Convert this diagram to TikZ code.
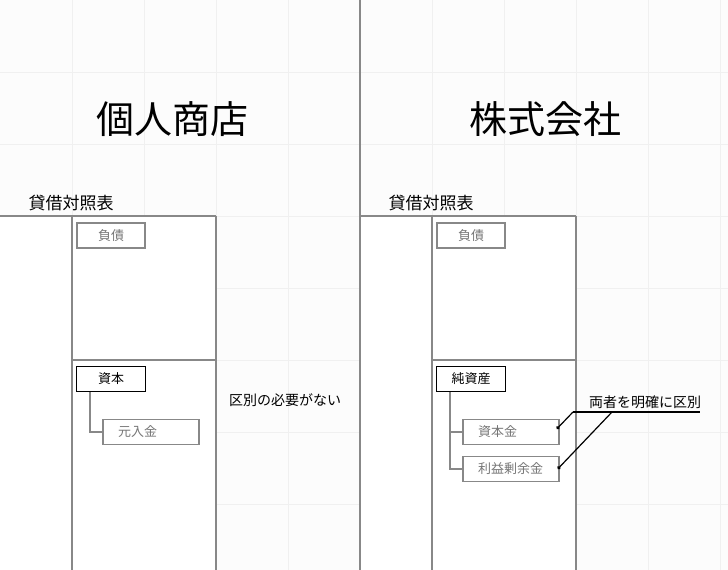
\documentclass[tikz,border=0pt]{standalone}
\usepackage{fontspec}
\setmainfont{Noto Sans CJK JP}
\definecolor{LineGray}{HTML}{888888}
\definecolor{TextGray}{HTML}{777777}
\definecolor{GridGray}{HTML}{F0F0F0}
\definecolor{PaperGray}{HTML}{FCFCFC}
\usetikzlibrary{arrows.meta, positioning}

\begin{document}
\begin{tikzpicture}[x=1pt, y=-1pt,
  frame/.style={draw=LineGray, line width=1.2pt},
  title/.style={font=\fontsize{38}{40}\selectfont},
  sheet/.style={font=\fontsize{17}{19}\selectfont},
  note/.style={font=\fontsize{14}{16}\selectfont},
  item/.style={draw=LineGray, line width=1.4pt, text=TextGray, font=\fontsize{13}{15}\selectfont,
    minimum height=25pt, inner sep=0pt},
  leaf/.style={item, inner xsep=15pt, text width=66pt, align=left},
  head/.style={item, draw=black, text=black, line width=1.8pt},
  branch/.style={draw=LineGray, line width=1.8pt},
  callout/.style={line width=1.2pt, -{Circle[length=3.5pt]}}]
  \useasboundingbox (0,0) rectangle (728,570);
  \fill[PaperGray] (0,0) rectangle (728,570);
  \foreach \gx in {72,144,...,720} \draw[GridGray] (\gx,0) -- (\gx,570);
  \foreach \gy in {72,144,...,504} \draw[GridGray] (0,\gy) -- (728,\gy);

  % two balance sheets
  \foreach \ox in {0,360} {
    \fill[white] (\ox,216) rectangle (\ox+216,570);
    \draw[frame] (\ox,216) -- (\ox+216,216);
    \draw[frame] (\ox+72,216) -- (\ox+72,570);
    \draw[frame] (\ox+216,216) -- (\ox+216,570);
    \draw[frame] (\ox+72,360) -- (\ox+216,360);
  }

  \node[title] (kojin) at (172,119) {個人商店};
  \node[title] (kabu) at (545,119) {株式会社};
  \node[sheet] (bsL) at (71,203) {貸借対照表};
  \node[sheet] (bsR) at (431,203) {貸借対照表};

  % left
  \node[item, minimum width=68pt] (fusaiL) at (111,235.5) {負債};
  \node[head, minimum width=69pt] (shihon) at (111,379) {資本};
  \node[leaf] (motoire) at (151,432) {元入金};
  \draw[branch] ([xshift=14pt]shihon.south west) |- (motoire.west);
  \node[note] (nashi) at (285,400) {区別の必要がない};

  % right
  \node[item, minimum width=68pt] (fusaiR) at (471,235.5) {負債};
  \node[head, minimum width=69pt] (junshisan) at (471,379) {純資産};
  \node[leaf] (shihonkin) at (511,432) {資本金};
  \node[leaf] (rieki) at (511,469) {利益剰余金};
  \coordinate (stem) at ([xshift=14pt]junshisan.south west);
  \draw[branch] (stem) |- (rieki.west) (stem |- shihonkin.west) -- (shihonkin.west);

  \node[note] (kubetsu) at (645,402) {両者を明確に区別};
  \coordinate (ulA) at (573,412);
  \coordinate (ulB) at (612,412);
  \coordinate (ulC) at (700,412);
  \draw[line width=1.2pt] (ulA) -- (ulC);
  \draw[callout] (ulA) -- ([xshift=-3pt, yshift=3pt]shihonkin.east);
  \draw[callout] (ulB) -- ([xshift=-2pt]rieki.east);

  \draw[LineGray, line width=2pt] (360,0) -- (360,570);
\end{tikzpicture}
\end{document}
